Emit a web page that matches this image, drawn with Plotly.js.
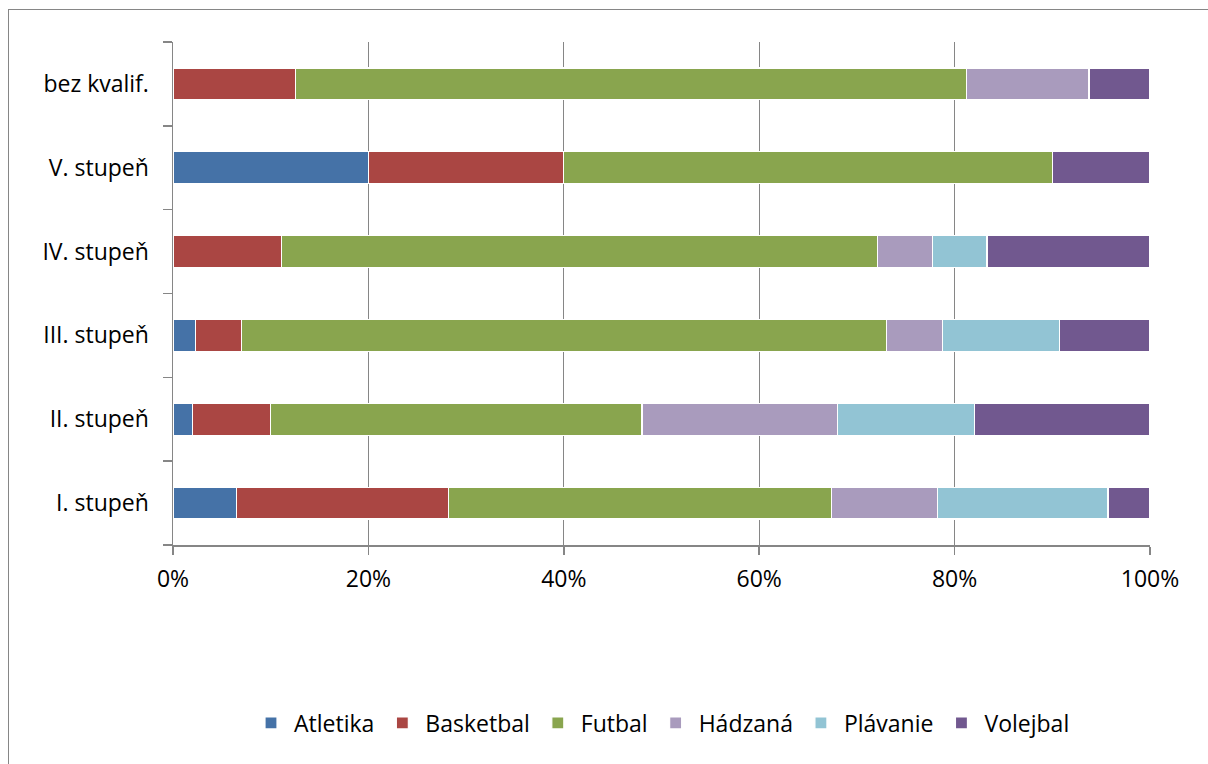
<!DOCTYPE html>
<html>
<head>
<meta charset="utf-8">
<script src="https://cdn.plot.ly/plotly-3.0.1.min.js"></script>
<style>
html,body{margin:0;padding:0;background:#fff;overflow:hidden;width:1208px;height:764px;}
#frame{position:absolute;left:8px;top:9px;width:1400px;height:1000px;border-left:1.5px solid #868686;border-top:1.5px solid #868686;}
#chart{position:absolute;left:0;top:0;width:1208px;height:764px;}
</style>
</head>
<body>
<div id="frame"></div>
<div id="chart"></div>
<script>
const categories = ['I. stupeň', 'II. stupeň', 'III. stupeň', 'IV. stupeň', 'V. stupeň', 'bez kvalif.'];
const seriesNames = ['Atletika', 'Basketbal', 'Futbal', 'Hádzaná', 'Plávanie', 'Volejbal'];
const atletika  = [6.5, 2, 2.3, 0, 20, 0];
const basketbal = [21.7, 8, 4.7, 11.1, 20, 12.5];
const futbal    = [39.1, 38, 66.0, 61.1, 50, 68.75];
const hadzana   = [10.9, 20, 5.8, 5.6, 0, 12.5];
const plavanie  = [17.4, 14, 11.9, 5.6, 0, 0];
const volejbal  = [4.3, 18, 9.3, 16.7, 10, 6.25];
const tickVals = [0, 20, 40, 60, 80, 100];
const tickText = ['0%', '20%', '40%', '60%', '80%', '100%'];

const seriesValues = [atletika, basketbal, futbal, hadzana, plavanie, volejbal];
const colors = ['#4572A7', '#AA4643', '#89A54E', '#A99BBD', '#92C4D4', '#71588F'];

const traces = seriesNames.map((name, i) => ({
  type: 'bar',
  orientation: 'h',
  name: name,
  y: categories,
  x: seriesValues[i],
  marker: {color: colors[i], line: {color: '#ffffff', width: 1.2}},
  hoverinfo: 'x+y+name'
}));

const fontFam = '"Open Sans", Lato, sans-serif';
const fs = 23;
const plotL = 173, plotR = 1150, plotT = 42, plotB = 545;
const pw = plotR - plotL, ph = plotB - plotT;
const py = v => (plotB - v) / ph;
const axisColor = '#868686';

const layout = {
  width: 1208, height: 764,
  margin: {l: plotL, r: 1208 - plotR, t: plotT, b: 764 - plotB, pad: 0},
  paper_bgcolor: 'rgba(0,0,0,0)',
  plot_bgcolor: '#ffffff',
  barmode: 'stack',
  barnorm: 'percent',
  bargap: 0.62,
  font: {family: fontFam, size: fs, color: '#000000'},
  showlegend: true,
  legend: {
    orientation: 'h', x: 0.5, xanchor: 'center', y: py(723), yanchor: 'middle',
    font: {family: fontFam, size: fs, color: '#000000'},
    bgcolor: 'rgba(0,0,0,0)',
    traceorder: 'normal', itemwidth: 36
  },
  xaxis: {
    range: [0, 100],
    tickmode: 'array', tickvals: tickVals, ticktext: tickText,
    showgrid: true, gridcolor: axisColor, gridwidth: 1.2,
    zeroline: false,
    showline: true, linecolor: axisColor, linewidth: 1.5,
    ticks: 'outside', ticklen: 8, tickcolor: axisColor, tickwidth: 1.5,
    tickfont: {family: fontFam, size: fs, color: '#000000'},
    ticklabelstandoff: 5,
    fixedrange: true
  },
  yaxis: {
    type: 'category',
    categoryorder: 'array', categoryarray: categories,
    showline: true, linecolor: axisColor, linewidth: 1.5,
    ticks: 'outside', ticklen: 9, tickcolor: axisColor, tickwidth: 1.5,
    tickson: 'boundaries',
    showgrid: false, zeroline: false,
    tickfont: {family: fontFam, size: fs, color: '#000000'},
    ticklabelstandoff: 18,
    fixedrange: true
  }
};

Plotly.newPlot('chart', traces, layout, {displayModeBar: false, staticPlot: true});
</script>
</body>
</html>
